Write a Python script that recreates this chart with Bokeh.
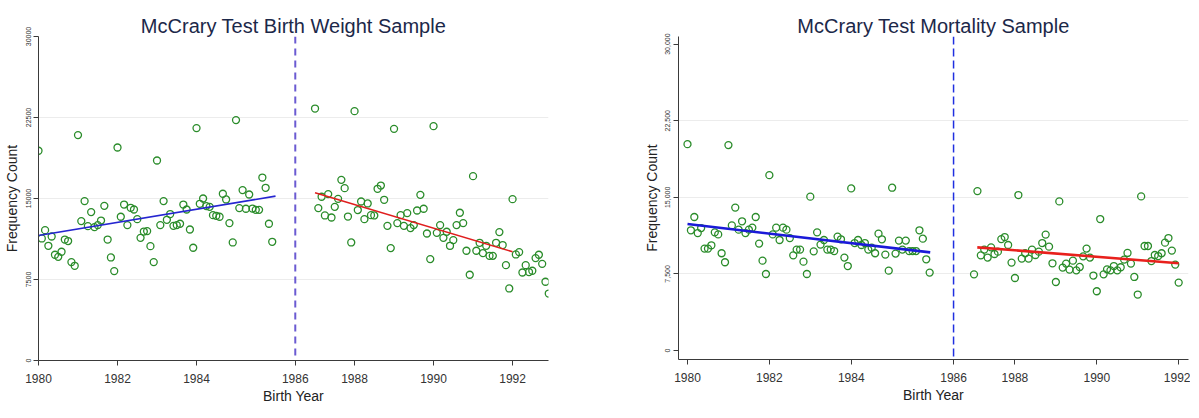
from bokeh.plotting import figure
from bokeh.models import Range1d, FixedTicker, Span
from bokeh.layouts import row
from bokeh.embed import file_html
from bokeh.resources import INLINE

# ---------------- data ----------------
# month index counted from January 1980 (0 = Jan 1980)
bw_pre_month = [0, 1, 2, 3, 4, 5, 6, 7, 8, 9, 10, 11,
                12, 13, 14, 15, 16, 17, 18, 19, 20, 21, 22, 23,
                24, 25, 26, 27, 28, 29, 30, 31, 32, 33, 34, 35,
                36, 37, 38, 39, 40, 41, 42, 43, 44, 45, 46, 47,
                48, 49, 50, 51, 52, 53, 54, 55, 56, 57, 58, 59,
                60, 61, 62, 63, 64, 65, 66, 67, 68, 69, 70, 71]
bw_pre_count = [19420, 11300, 12070, 10620, 11480, 9790, 9600, 10070, 11200, 11060, 9110, 8770,
                20870, 12910, 14760, 12440, 13740, 12350, 12540, 12960, 14320, 11200, 9540, 8280,
                19720, 13310, 14440, 12540, 14140, 13980, 13090, 11360, 11940, 11980, 10590, 9110,
                18520, 12540, 14760, 13030, 13560, 12470, 12540, 12660, 14440, 13980, 12130, 10440,
                21520, 14510, 15000, 14300, 14230, 13460, 13400, 13310, 15440, 14910, 12720, 10930,
                22260, 14110, 15780, 14050, 15370, 14070, 13950, 13950, 16940, 15990, 12660, 10990]

bw_post_month = [84, 85, 86, 87, 88, 89, 90, 91, 92, 93, 94, 95,
                 96, 97, 98, 99, 100, 101, 102, 103, 104, 105, 106, 107,
                 108, 109, 110, 111, 112, 113, 114, 115, 116, 117, 118, 119,
                 120, 121, 122, 123, 124, 125, 126, 127, 128, 129, 130, 131,
                 132, 133, 134, 135, 136, 137, 138, 139, 140, 141, 142, 143,
                 144, 145, 146, 147, 148, 149, 150, 151, 152, 153, 154, 155]
bw_post_count = [23330, 14110, 15160, 13430, 15410, 13240, 14230, 14970, 16730, 15960, 13330, 10930,
                 23090, 13930, 14720, 13090, 14540, 13460, 13430, 15900, 16200, 14880, 12470, 10410,
                 21450, 12720, 13460, 12470, 13650, 12260, 12540, 13890, 15340, 14050, 11760, 9390,
                 21700, 11820, 12540, 11360, 11920, 10620, 11150, 12540, 13680, 12720, 10160, 7940,
                 17070, 10160, 10900, 9940, 10620, 9690, 9690, 10900, 11890, 10690, 8830, 6670,
                 14940, 9820, 10040, 8150, 8830, 8190, 8310, 9480, 9790, 8950, 7290, 6200]

mort_pre_month = list(bw_pre_month)
mort_pre_count = [20200, 11770, 13070, 11500, 11990, 9980, 9980, 10300, 11570, 11370, 9520, 8640,
                  20110, 12250, 13990, 11830, 12650, 11500, 11830, 12030, 13070, 10470, 8800, 7490,
                  17170, 11370, 12030, 10820, 12030, 11830, 11010, 9320, 9880, 9880, 8700, 7490,
                  15060, 9710, 11570, 10370, 10820, 9880, 9880, 9740, 11150, 10890, 9100, 8270,
                  15870, 10520, 10820, 10330, 10520, 9880, 10070, 9520, 11440, 10890, 9390, 7820,
                  15940, 9490, 10760, 9880, 10760, 9740, 9740, 9740, 11770, 10950, 8930, 7630]

mort_post_month = [84, 85, 86, 87, 88, 89, 90, 91, 92, 93, 94, 95,
                   96, 97, 98, 99, 100, 101, 102, 103, 104, 105, 106, 107,
                   108, 109, 110, 111, 112, 113, 114, 115, 116, 117, 118, 119,
                   120, 121, 122, 123, 124, 125, 126, 127, 128, 129, 130, 131,
                   132, 133, 134, 135, 136, 137, 138, 139, 140, 141, 142, 143,
                   144]
mort_post_count = [7460, 15610, 9320, 9880, 9100, 10100, 9450, 9680, 10910, 11110, 10330, 8610,
                   7100, 15220, 9000, 9520, 9000, 9880, 9350, 9680, 10520, 11350, 10170, 8540,
                   6710, 14600, 8120, 8510, 7920, 8800, 7850, 8180, 9220, 9980, 9100, 7340,
                   5800, 12870, 7460, 7950, 7850, 8270, 7850, 8150, 8900, 9550, 8510, 7200,
                   5480, 15090, 10230, 10230, 8760, 9350, 9250, 9520, 10560, 11010, 9780, 8410,
                   6650]

# fitted lines (end points)
bw_fit_pre_x = [1980.0, 1986.0]
bw_fit_pre_y = [11570, 15220]
bw_fit_post_x = [1987.0, 1992.0]
bw_fit_post_y = [15530, 10070]
mort_fit_pre_x = [1980.0, 1985.93]
mort_fit_pre_y = [12380, 9610]
mort_fit_post_x = [1987.08, 1992.0]
mort_fit_post_y = [10100, 8540]

cutoff = 1986.5
year_tick_pos = [1980, 1982, 1984, 1986.5, 1988, 1990, 1992]
year_tick_labels = ["1980", "1982", "1984", "1986", "1988", "1990", "1992"]
count_tick_pos = [0, 7500, 15000, 22500, 30000]
bw_count_labels = ["0", "7500", "15000", "22500", "30000"]
mort_count_labels = ["0", "7,500", "15,000", "22,500", "30,000"]
grid_pos = [7500, 15000, 22500]

FONT = "Liberation Sans"
GREEN = "#2a8c2a"
TITLE_COLOR = "#1c2849"


def to_year(months):
    return [1980 + m / 12.0 for m in months]


def make_panel(title, xr, yr, fh, mbl, mbr, mbt, mbb, ylabels):
    p = figure(frame_width=510, frame_height=fh, x_range=xr, y_range=yr,
               output_backend="svg", toolbar_location=None,
               min_border_left=mbl, min_border_right=mbr,
               min_border_top=mbt, min_border_bottom=mbb,
               background_fill_color="white", border_fill_color="white")
    p.outline_line_color = None
    p.title.text = title
    p.title.align = "center"
    p.title.text_font = FONT
    p.title.text_font_size = "20px"
    p.title.text_font_style = "normal"
    p.title.text_color = TITLE_COLOR
    p.title.standoff = 0

    p.xgrid.visible = False
    p.ygrid.ticker = FixedTicker(ticks=grid_pos)
    p.ygrid.grid_line_color = "#ececec"
    p.ygrid.grid_line_width = 1

    p.xaxis.ticker = FixedTicker(ticks=year_tick_pos)
    p.xaxis.major_label_overrides = dict(zip(year_tick_pos, year_tick_labels))
    p.yaxis.ticker = FixedTicker(ticks=count_tick_pos)
    p.yaxis.major_label_overrides = dict(zip(count_tick_pos, ylabels))
    p.yaxis.major_label_orientation = "vertical"

    for ax in (p.xaxis[0], p.yaxis[0]):
        ax.axis_line_color = "#3a3a3a"
        ax.major_tick_line_color = "#3a3a3a"
        ax.major_tick_in = 0
        ax.major_tick_out = 5
        ax.minor_tick_line_color = None
        ax.major_label_text_font = FONT
        ax.major_label_text_color = "#333333"
        ax.axis_label_text_font = FONT
        ax.axis_label_text_font_size = "14px"
        ax.axis_label_text_font_style = "normal"
        ax.axis_label_text_color = "#222222"
    p.xaxis.major_label_text_font_size = "12px"
    p.xaxis.major_label_standoff = 8
    p.xaxis.axis_label = "Birth Year"
    p.xaxis.axis_label_standoff = 2
    p.yaxis.major_label_text_font_size = "7px"
    p.yaxis.major_label_standoff = 3
    p.yaxis.axis_label = "Frequency Count"
    p.yaxis.axis_label_standoff = 3
    return p


# ---------------- left panel ----------------
p1 = make_panel("McCrary Test Birth Weight Sample",
                Range1d(1980, 1992.91), Range1d(0, 30000),
                324, 31, 59, 35, 45, bw_count_labels)
p1.add_layout(Span(location=cutoff, dimension="height", line_color="#6b5bd2",
                   line_width=2, line_dash="7 5"))
p1.scatter(to_year(bw_pre_month), bw_pre_count, marker="circle", size=7,
           fill_color=None, line_color=GREEN, line_width=1.3)
p1.scatter(to_year(bw_post_month), bw_post_count, marker="circle", size=7,
           fill_color=None, line_color=GREEN, line_width=1.3)
p1.line(bw_fit_pre_x, bw_fit_pre_y, line_color="#2525d0", line_width=1.6)
p1.line(bw_fit_post_x, bw_fit_post_y, line_color="#e01e1e", line_width=1.6)

# ---------------- right panel ----------------
p2 = make_panel("McCrary Test Mortality Sample",
                Range1d(1979.78, 1992.24), Range1d(-880, 30743),
                323, 71, 2, 36, 45, mort_count_labels)
p2.add_layout(Span(location=cutoff, dimension="height", line_color="#1f2fe0",
                   line_width=1.5, line_dash="8 4"))
p2.scatter(to_year(mort_pre_month), mort_pre_count, marker="circle", size=7,
           fill_color=None, line_color=GREEN, line_width=1.3)
p2.scatter(to_year(mort_post_month), mort_post_count, marker="circle", size=7,
           fill_color=None, line_color=GREEN, line_width=1.3)
p2.line(mort_fit_pre_x, mort_fit_pre_y, line_color="#1a1ad8", line_width=2.6)
p2.line(mort_fit_post_x, mort_fit_post_y, line_color="#e8201c", line_width=2.6)

layout = row(p1, p2)
open("out.html", "w").write(file_html(layout, INLINE))
